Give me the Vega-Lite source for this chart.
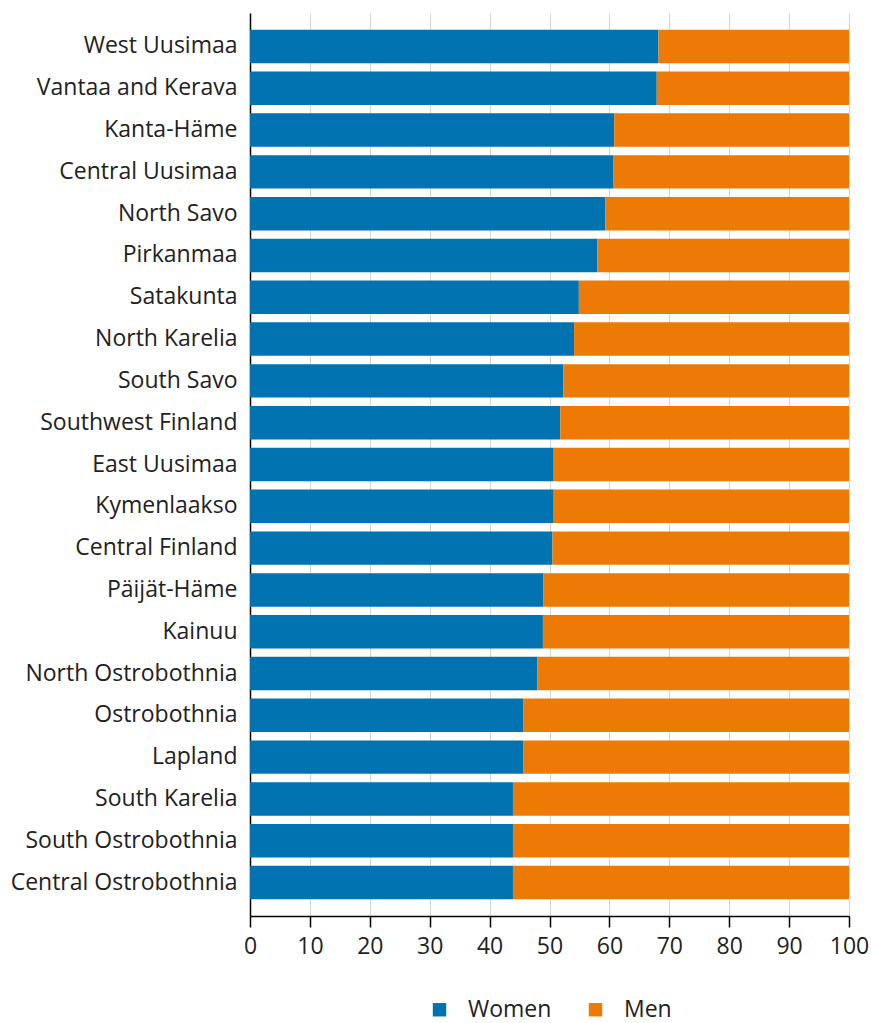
{
  "$schema": "https://vega.github.io/schema/vega-lite/v6.json",
  "autosize": "none",
  "width": 599,
  "height": 903,
  "padding": {"left": 250, "top": 13, "right": 22, "bottom": 107},
  "background": "white",
  "config": {
    "font": "Open Sans",
    "view": {"stroke": null},
    "axis": {"labelFont": "Open Sans", "labelFontSize": 23, "labelColor": "#222222", "labelLimit": 400},
    "legend": {
      "labelFont": "Open Sans",
      "labelFontSize": 23,
      "labelColor": "#222222",
      "labelLimit": 400,
      "layout": {"bottom": {"anchor": "middle"}}
    }
  },
  "data": {
    "values": [
      {"region": "West Uusimaa", "sex": "Women", "value": 68.2},
      {"region": "West Uusimaa", "sex": "Men", "value": 31.8},
      {"region": "Vantaa and Kerava", "sex": "Women", "value": 67.9},
      {"region": "Vantaa and Kerava", "sex": "Men", "value": 32.1},
      {"region": "Kanta-Häme", "sex": "Women", "value": 60.8},
      {"region": "Kanta-Häme", "sex": "Men", "value": 39.2},
      {"region": "Central Uusimaa", "sex": "Women", "value": 60.7},
      {"region": "Central Uusimaa", "sex": "Men", "value": 39.3},
      {"region": "North Savo", "sex": "Women", "value": 59.3},
      {"region": "North Savo", "sex": "Men", "value": 40.7},
      {"region": "Pirkanmaa", "sex": "Women", "value": 58.0},
      {"region": "Pirkanmaa", "sex": "Men", "value": 42.0},
      {"region": "Satakunta", "sex": "Women", "value": 54.9},
      {"region": "Satakunta", "sex": "Men", "value": 45.1},
      {"region": "North Karelia", "sex": "Women", "value": 54.1},
      {"region": "North Karelia", "sex": "Men", "value": 45.9},
      {"region": "South Savo", "sex": "Women", "value": 52.3},
      {"region": "South Savo", "sex": "Men", "value": 47.7},
      {"region": "Southwest Finland", "sex": "Women", "value": 51.8},
      {"region": "Southwest Finland", "sex": "Men", "value": 48.2},
      {"region": "East Uusimaa", "sex": "Women", "value": 50.7},
      {"region": "East Uusimaa", "sex": "Men", "value": 49.3},
      {"region": "Kymenlaakso", "sex": "Women", "value": 50.7},
      {"region": "Kymenlaakso", "sex": "Men", "value": 49.3},
      {"region": "Central Finland", "sex": "Women", "value": 50.5},
      {"region": "Central Finland", "sex": "Men", "value": 49.5},
      {"region": "Päijät-Häme", "sex": "Women", "value": 49.0},
      {"region": "Päijät-Häme", "sex": "Men", "value": 51.0},
      {"region": "Kainuu", "sex": "Women", "value": 48.9},
      {"region": "Kainuu", "sex": "Men", "value": 51.1},
      {"region": "North Ostrobothnia", "sex": "Women", "value": 48.0},
      {"region": "North Ostrobothnia", "sex": "Men", "value": 52.0},
      {"region": "Ostrobothnia", "sex": "Women", "value": 45.6},
      {"region": "Ostrobothnia", "sex": "Men", "value": 54.4},
      {"region": "Lapland", "sex": "Women", "value": 45.6},
      {"region": "Lapland", "sex": "Men", "value": 54.4},
      {"region": "South Karelia", "sex": "Women", "value": 43.9},
      {"region": "South Karelia", "sex": "Men", "value": 56.1},
      {"region": "South Ostrobothnia", "sex": "Women", "value": 43.9},
      {"region": "South Ostrobothnia", "sex": "Men", "value": 56.1},
      {"region": "Central Ostrobothnia", "sex": "Women", "value": 43.9},
      {"region": "Central Ostrobothnia", "sex": "Men", "value": 56.1}
    ]
  },
  "mark": {"type": "bar"},
  "encoding": {
    "y": {
      "field": "region",
      "type": "nominal",
      "sort": null,
      "scale": {"paddingInner": 0.2, "paddingOuter": 0.4},
      "axis": {
        "title": null,
        "ticks": false,
        "labelPadding": 13,
        "domainColor": "#000000",
        "domainWidth": 1.5,
        "grid": false
      }
    },
    "x": {
      "field": "value",
      "type": "quantitative",
      "stack": "zero",
      "scale": {"domain": [0, 100], "nice": false},
      "axis": {
        "title": null,
        "values": [0, 10, 20, 30, 40, 50, 60, 70, 80, 90, 100],
        "grid": true,
        "gridColor": "#d4d4d4",
        "gridWidth": 1,
        "domainColor": "#000000",
        "domainWidth": 1.5,
        "tickColor": "#000000",
        "tickWidth": 1.5,
        "tickSize": 11,
        "labelPadding": 8,
        "labelFlush": false
      }
    },
    "color": {
      "field": "sex",
      "type": "nominal",
      "sort": ["Women", "Men"],
      "scale": {"domain": ["Women", "Men"], "range": ["#0073B0", "#EC7A04"]},
      "legend": {
        "title": null,
        "orient": "bottom",
        "direction": "horizontal",
        "symbolType": "square",
        "symbolSize": 180,
        "symbolStrokeWidth": 0,
        "labelOffset": 17,
        "columnPadding": 32,
        "offset": 40
      }
    },
    "order": {"field": "sex", "sort": "descending"}
  }
}
